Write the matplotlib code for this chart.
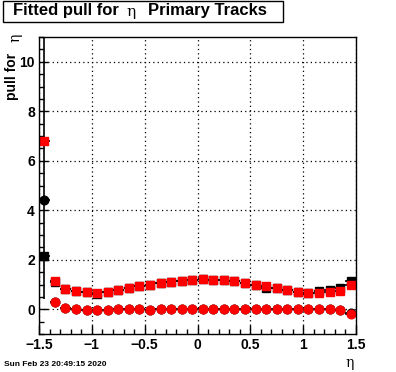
import numpy as np
import matplotlib
matplotlib.use('Agg')
import matplotlib.pyplot as plt
from matplotlib.patches import Rectangle
from matplotlib.ticker import MultipleLocator

# eta bin centres (width 0.1)
eta = [-1.45, -1.35, -1.25, -1.15, -1.05, -0.95, -0.85, -0.75, -0.65, -0.55,
       -0.45, -0.35, -0.25, -0.15, -0.05, 0.05, 0.15, 0.25, 0.35, 0.45,
       0.55, 0.65, 0.75, 0.85, 0.95, 1.05, 1.15, 1.25, 1.35, 1.45]
halfWidth = 0.05

# sigma of the pull (squares) and mean of the pull (circles)
blackSigma = [2.14, 1.10, 0.80, 0.73, 0.68, 0.62, 0.71, 0.76, 0.86, 0.93,
              0.98, 1.06, 1.12, 1.14, 1.18, 1.21, 1.18, 1.18, 1.14, 1.06,
              0.98, 0.86, 0.86, 0.78, 0.69, 0.65, 0.73, 0.76, 0.87, 1.13]
blackMean = [4.42, 0.31, 0.07, -0.01, -0.02, -0.02, -0.02, -0.01, 0.00, 0.00,
             -0.02, -0.01, 0.00, 0.02, 0.02, 0.01, 0.00, 0.00, 0.00, 0.00,
             0.00, 0.00, 0.00, 0.00, 0.00, 0.00, 0.00, 0.00, -0.02, -0.17]
redSigma = [6.80, 1.13, 0.82, 0.73, 0.68, 0.65, 0.71, 0.76, 0.86, 0.93,
            0.98, 1.06, 1.12, 1.14, 1.18, 1.21, 1.18, 1.18, 1.14, 1.06,
            0.98, 0.93, 0.86, 0.78, 0.69, 0.65, 0.65, 0.71, 0.75, 0.98]
redMean = [np.nan, 0.31, 0.07, -0.01, -0.02, -0.02, -0.02, -0.01, 0.00, 0.00,
           -0.02, -0.01, 0.00, 0.02, 0.02, 0.01, 0.00, 0.00, 0.00, 0.00,
           0.00, 0.00, 0.00, 0.00, 0.00, 0.00, 0.00, 0.00, -0.02, -0.20]
redSigmaErr = [6.40] + [0.03] * 29
smallErr = [0.03] * 30

plt.rcParams['font.family'] = ['Liberation Sans', 'DejaVu Sans']

fig = plt.figure(figsize=(3.96, 3.72), dpi=100)
ax = fig.add_axes([39 / 396, 38 / 372, 317 / 396, 297 / 372])

ebKw = dict(xerr=halfWidth, ecolor='black', elinewidth=1.2, capsize=0,
            linestyle='none')
ax.errorbar(eta, blackSigma, yerr=smallErr, marker='s', ms=5.5,
            mfc='black', mec='black', **ebKw)
ax.errorbar(eta, blackMean, yerr=smallErr, marker='o', ms=6.2,
            mfc='black', mec='black', **ebKw)
ax.errorbar(eta, redSigma, yerr=redSigmaErr, marker='s', ms=5.5,
            mfc='red', mec='red', **ebKw)
ax.errorbar(eta, redMean, yerr=smallErr, marker='o', ms=6.2,
            mfc='red', mec='red', **ebKw)

ax.set_xlim(-1.5, 1.5)
ax.set_ylim(-1, 11)
ax.xaxis.set_minor_locator(MultipleLocator(0.1))
ax.yaxis.set_major_locator(MultipleLocator(2))
ax.yaxis.set_minor_locator(MultipleLocator(0.5))
ax.set_xticks([-1.5, -1, -0.5, 0, 0.5, 1, 1.5])
ax.set_xticklabels(['\u22121.5', '\u22121', '\u22120.5', '0', '0.5', '1', '1.5'])
ax.tick_params(which='both', direction='in', top=False, right=False,
               width=1, labelsize=10)
ax.tick_params(which='major', length=6.5, pad=3)
ax.tick_params(which='minor', length=3.3)
for lab in ax.get_xticklabels() + ax.get_yticklabels():
    lab.set_fontweight('bold')
ax.grid(True, which='major', color='black', linestyle=(0, (1, 2.5)), lw=0.9)
for sp in ax.spines.values():
    sp.set_linewidth(1)

# title box
fig.patches.append(Rectangle((3 / 396, 350 / 372), 280 / 396, 21 / 372,
                             transform=fig.transFigure, fill=False,
                             edgecolor='black', lw=1))
fig.text(13 / 396, 361 / 372, 'Fitted pull for', fontsize=12,
         fontweight='bold', va='center', ha='left')
fig.text(131 / 396, 360 / 372, '\u03b7', fontsize=11, family='DejaVu Serif',
         va='center', ha='center')
fig.text(148 / 396, 361 / 372, 'Primary Tracks', fontsize=12,
         fontweight='bold', va='center', ha='left')

# y label
fig.text(12 / 396, 296 / 372, 'pull for', fontsize=10,
         fontweight='bold', rotation=90, va='center', ha='center')
fig.text(15 / 396, 334 / 372, '\u03b7', fontsize=10, family='DejaVu Serif',
         rotation=90, va='center', ha='center')

# x label
fig.text(350 / 396, 9 / 372, '\u03b7', fontsize=10, family='DejaVu Serif',
         va='center', ha='center')

# date stamp
fig.text(4 / 396, 7 / 372, 'Sun Feb 23 20:49:15 2020', fontsize=6,
         fontweight='bold', va='center', ha='left')

fig.savefig('out.png', dpi=100)
